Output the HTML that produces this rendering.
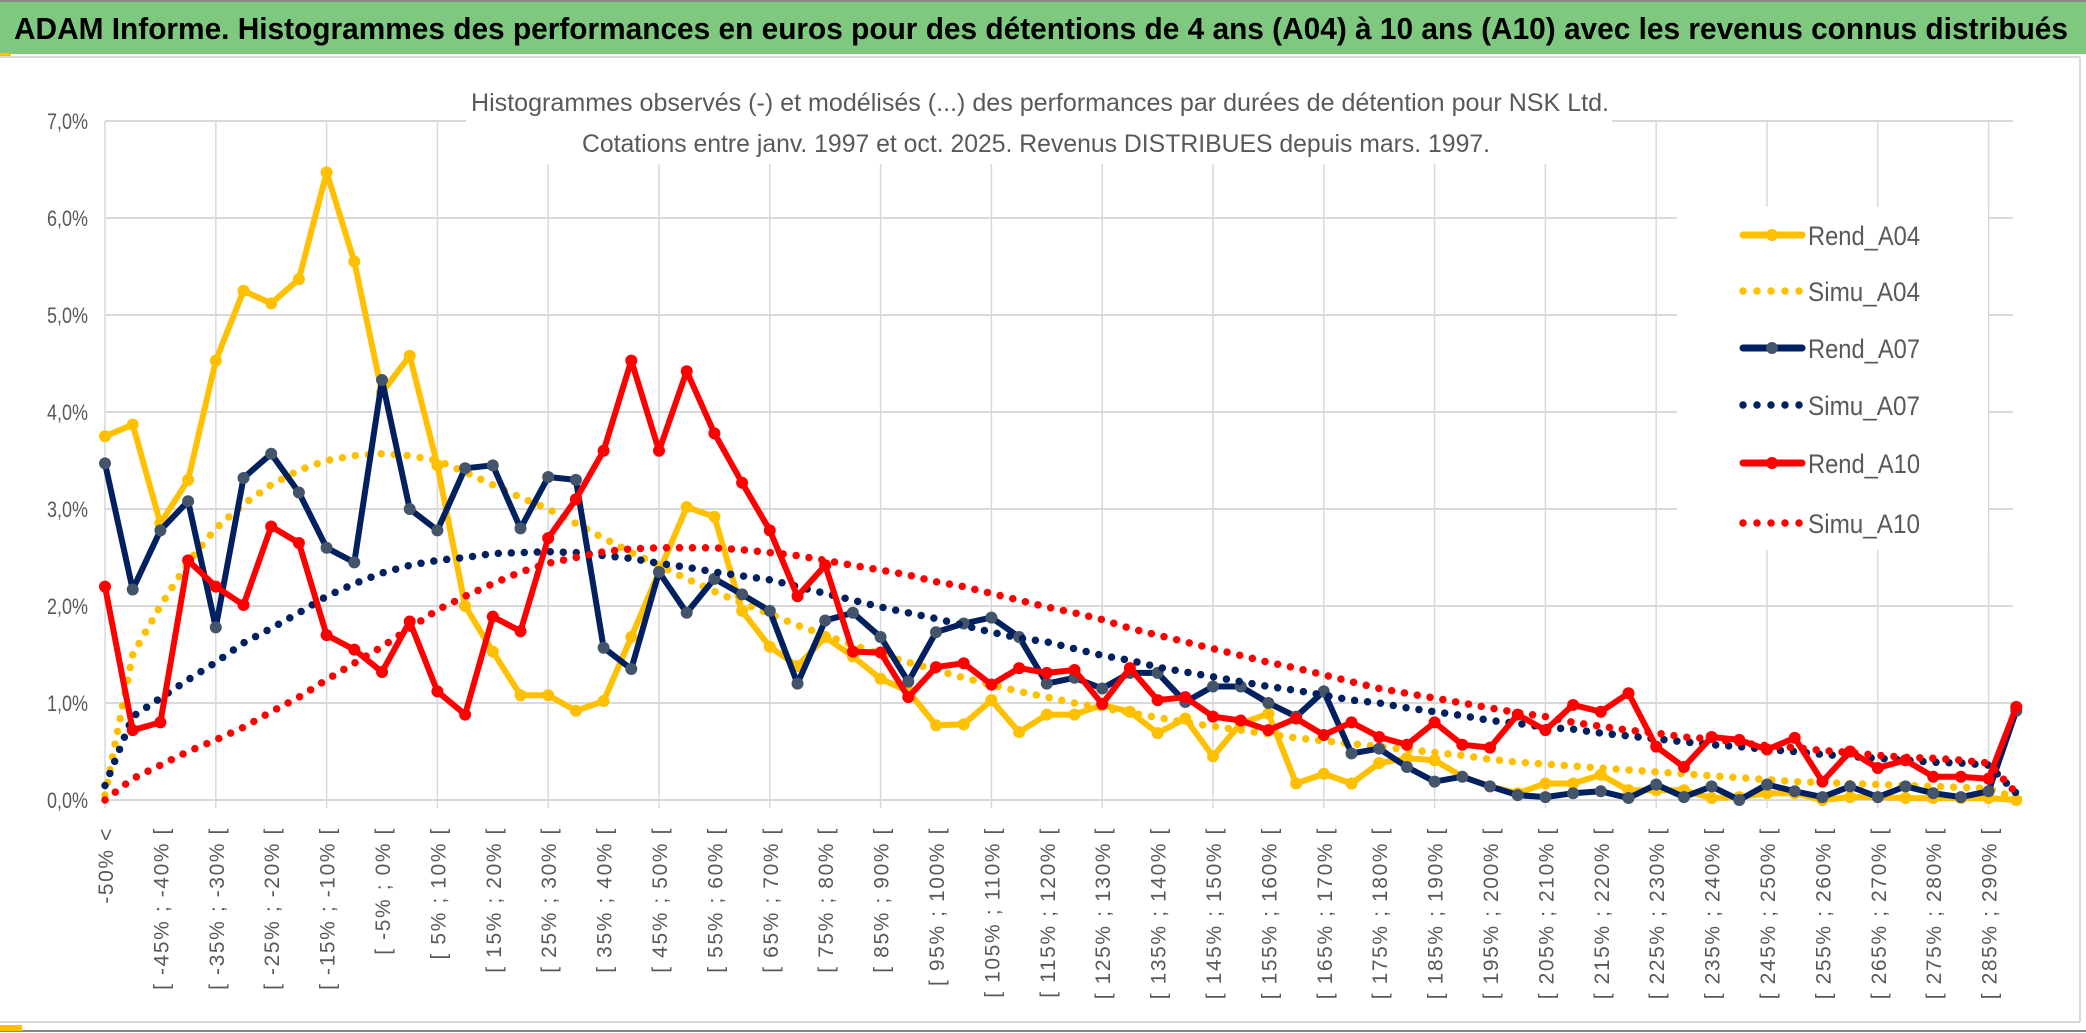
<!DOCTYPE html>
<html><head><meta charset="utf-8"><style>
html,body{margin:0;padding:0;background:#fff;}
svg{display:block;}
text{font-family:"Liberation Sans",sans-serif;}
</style></head><body>
<svg id="c" width="2086" height="1033" viewBox="0 0 2086 1033" xmlns="http://www.w3.org/2000/svg">
<rect x="0" y="0" width="2086" height="1033" fill="#fff"/>
<rect x="0" y="0" width="2086" height="54" fill="#7ec97f"/>
<line x1="0" y1="1" x2="2086" y2="1" stroke="#888" stroke-width="2"/>
<text x="14" y="39" font-size="31" font-weight="bold" fill="#000" textLength="2054" lengthAdjust="spacingAndGlyphs">ADAM Informe. Histogrammes des performances en euros pour des détentions de 4 ans (A04) à 10 ans (A10) avec les revenus connus distribués</text>
<line x1="0" y1="57" x2="2080" y2="57" stroke="#d9d9d9" stroke-width="2"/>
<line x1="2080" y1="57" x2="2080" y2="1022" stroke="#d9d9d9" stroke-width="2"/>
<rect x="0" y="53" width="11" height="3" fill="#ffc000"/>
<line x1="0" y1="1022" x2="2080" y2="1022" stroke="#d9d9d9" stroke-width="2"/>
<line x1="0" y1="1031" x2="2086" y2="1031" stroke="#888" stroke-width="2"/>
<rect x="0" y="1025" width="22" height="6" fill="#ffc000"/>
<g id="grid"></g>
<rect x="466" y="80" width="1146" height="84" fill="#fff"/>
<text x="1040" y="111" font-size="25" fill="#595959" text-anchor="middle" textLength="1138" lengthAdjust="spacingAndGlyphs">Histogrammes observés (-) et modélisés (...) des performances par durées de détention pour NSK Ltd.</text>
<text x="1036" y="152" font-size="25" fill="#595959" text-anchor="middle" textLength="908" lengthAdjust="spacingAndGlyphs">Cotations entre janv. 1997 et oct. 2025. Revenus DISTRIBUES depuis mars. 1997.</text>
<g id="yaxis"></g>
<g id="xaxis"></g>
<rect x="1677" y="207" width="311" height="343" fill="#fff"/>
<g id="series"></g>
<g id="legend"></g>
</svg>
<script>
const categories = [];
categories.push('-50% <');
for (let k = 1; k < 69; k++) { const a = -50 + 5 * (k - 1); categories.push('[ ' + a + '% ; ' + (a + 5) + '% ['); }
categories.push('>= 290%');
const yTicks = [0,1,2,3,4,5,6,7];
const rendA04 = [3.75,3.87,2.85,3.3,4.53,5.25,5.12,5.37,6.47,5.55,4.2,4.58,3.45,2.0,1.53,1.08,1.08,0.92,1.02,1.68,2.35,3.02,2.92,1.95,1.58,1.38,1.68,1.48,1.25,1.12,0.77,0.78,1.03,0.7,0.88,0.88,0.98,0.91,0.69,0.84,0.45,0.79,0.89,0.17,0.27,0.17,0.38,0.43,0.41,0.24,0.14,0.07,0.17,0.17,0.26,0.1,0.1,0.1,0.02,0.03,0.07,0.07,0.0,0.03,0.03,0.02,0.02,0.02,0.02,0.0];
const simuA04 = [0.05,1.5,2.0,2.45,2.8,3.05,3.25,3.4,3.5,3.55,3.57,3.55,3.5,3.38,3.25,3.12,3.0,2.85,2.7,2.55,2.42,2.28,2.15,2.03,1.92,1.8,1.7,1.6,1.5,1.42,1.34,1.26,1.19,1.12,1.06,1.0,0.95,0.9,0.85,0.8,0.76,0.72,0.68,0.64,0.61,0.58,0.55,0.52,0.49,0.46,0.42,0.39,0.37,0.35,0.33,0.31,0.29,0.27,0.25,0.23,0.21,0.19,0.18,0.17,0.16,0.15,0.14,0.13,0.12,0.02];
const rendA07 = [3.47,2.17,2.78,3.08,1.78,3.32,3.57,3.17,2.6,2.45,4.33,3.0,2.78,3.42,3.45,2.8,3.33,3.3,1.57,1.35,2.35,1.93,2.28,2.12,1.95,1.2,1.85,1.93,1.68,1.22,1.73,1.82,1.88,1.68,1.2,1.26,1.15,1.31,1.31,1.01,1.17,1.17,1.0,0.86,1.12,0.48,0.53,0.34,0.19,0.24,0.14,0.05,0.03,0.07,0.09,0.02,0.16,0.03,0.14,0.0,0.16,0.09,0.03,0.14,0.03,0.14,0.07,0.03,0.09,0.92];
const simuA07 = [0.15,0.86,1.05,1.24,1.42,1.62,1.77,1.93,2.1,2.23,2.34,2.42,2.47,2.5,2.54,2.55,2.56,2.55,2.52,2.49,2.44,2.4,2.35,2.31,2.27,2.2,2.13,2.06,1.99,1.93,1.87,1.8,1.73,1.67,1.63,1.56,1.49,1.44,1.37,1.32,1.27,1.22,1.17,1.13,1.08,1.03,1.0,0.95,0.91,0.87,0.82,0.79,0.75,0.73,0.69,0.66,0.63,0.6,0.57,0.55,0.52,0.5,0.47,0.45,0.43,0.41,0.39,0.38,0.36,0.07];
const rendA10 = [2.2,0.72,0.8,2.47,2.2,2.01,2.82,2.65,1.7,1.55,1.32,1.84,1.12,0.88,1.89,1.74,2.7,3.1,3.6,4.53,3.6,4.42,3.78,3.27,2.78,2.1,2.42,1.53,1.52,1.06,1.37,1.41,1.19,1.36,1.31,1.34,0.99,1.36,1.03,1.06,0.86,0.82,0.72,0.84,0.67,0.8,0.65,0.57,0.8,0.57,0.54,0.88,0.72,0.98,0.91,1.1,0.55,0.34,0.65,0.62,0.52,0.64,0.19,0.5,0.33,0.41,0.24,0.24,0.22,0.96];
const simuA10 = [0.0,0.22,0.36,0.5,0.62,0.75,0.91,1.06,1.24,1.41,1.58,1.77,1.96,2.1,2.23,2.35,2.44,2.5,2.56,2.59,2.6,2.6,2.6,2.58,2.55,2.52,2.47,2.42,2.37,2.32,2.25,2.2,2.13,2.06,1.99,1.93,1.86,1.77,1.7,1.63,1.56,1.49,1.42,1.36,1.29,1.22,1.15,1.1,1.05,1.0,0.95,0.9,0.86,0.8,0.76,0.72,0.69,0.65,0.63,0.59,0.56,0.54,0.51,0.49,0.46,0.44,0.43,0.41,0.38,0.07];
const seriesNames = ['Rend_A04','Simu_A04','Rend_A07','Simu_A07','Rend_A10','Simu_A10'];

const NS = 'http://www.w3.org/2000/svg';
const X0 = 105, DX = 27.7, Y0 = 800, YS = 97;
const xPos = i => X0 + i * DX;
const yPos = v => Y0 - v * YS;
function mk(tag, attrs, parent) { const e = document.createElementNS(NS, tag); for (const k in attrs) e.setAttribute(k, attrs[k]); parent.appendChild(e); return e; }

const grid = document.getElementById('grid');
yTicks.forEach(t => {
  const l = mk('line', {x1: X0, x2: 2013, y1: yPos(t), y2: yPos(t), stroke: '#d9d9d9', 'stroke-width': 2}, grid);
  
  
});
for (let i = 0; i < categories.length; i += 4) {
  const l = mk('line', {x1: xPos(i), x2: xPos(i), y1: yPos(7), y2: yPos(0) + 8, stroke: '#d9d9d9', 'stroke-width': 1.5}, grid);
  
  
}
const ya = document.getElementById('yaxis');
yTicks.forEach(t => {
  const tx = mk('text', {x: 88, y: yPos(t) + 8, 'font-size': 22, fill: '#595959', 'text-anchor': 'end', textLength: 41, lengthAdjust: 'spacingAndGlyphs'}, ya);
  tx.textContent = t.toFixed(1).replace('.', ',') + '%';
  
  
});
const xa = document.getElementById('xaxis');
for (let i = 0; i < categories.length - 1; i += 2) {
  const x = xPos(i) + 8, y = 827;
  const tx = mk('text', {x: x, y: y, 'font-size': 21, fill: '#595959', 'text-anchor': 'end', transform: 'rotate(-90 ' + x + ' ' + y + ')', 'letter-spacing': '1.6'}, xa);
  tx.textContent = categories[i];
  
  
}
const sg = document.getElementById('series');
function pts(arr) { return arr.map((v, i) => xPos(i).toFixed(1) + ',' + yPos(v).toFixed(1)).join(' '); }
function drawRend(arr, color, mcolor, name) {
  const g = mk('g', {}, sg);
  
  
  mk('polyline', {points: pts(arr), fill: 'none', stroke: color, 'stroke-width': 6, 'stroke-linejoin': 'round'}, g);
  arr.forEach((v, i) => {
    const c = mk('circle', {cx: xPos(i), cy: yPos(v), r: 6, fill: mcolor}, g);
    
    
  });
}
function drawSimu(arr, color, name) {
  const p = mk('polyline', {points: pts(arr), fill: 'none', stroke: color, 'stroke-width': 7.5, 'stroke-linecap': 'round', 'stroke-dasharray': '0 13'}, sg);
  
  
}
drawRend(rendA04, '#ffc000', '#ffc000', 'rend-a04-line');
drawSimu(simuA04, '#ffc000', 'simu-a04-line');
drawRend(rendA07, '#002060', '#44546a', 'rend-a07-line');
drawSimu(simuA07, '#002060', 'simu-a07-line');
drawRend(rendA10, '#ff0000', '#ff0000', 'rend-a10-line');
drawSimu(simuA10, '#ff0000', 'simu-a10-line');

const lg = document.getElementById('legend');
const lcolors = ['#ffc000','#ffc000','#002060','#002060','#ff0000','#ff0000'];
const lys = [235, 291, 348, 405, 463, 523];
seriesNames.forEach((n, k) => {
  const g = mk('g', {}, lg);
  
  
  const y = lys[k];
  if (k % 2 === 0) {
    mk('line', {x1: 1743, x2: 1802, y1: y, y2: y, stroke: lcolors[k], 'stroke-width': 7, 'stroke-linecap': 'round'}, g);
    mk('circle', {cx: 1772, cy: y, r: 6, fill: k === 2 ? '#44546a' : lcolors[k]}, g);
  } else {
    mk('line', {x1: 1743, x2: 1800, y1: y, y2: y, stroke: lcolors[k], 'stroke-width': 7.5, 'stroke-linecap': 'round', 'stroke-dasharray': '0 14'}, g);
  }
  const t = mk('text', {x: 1808, y: y + 10, 'font-size': 27, fill: '#595959', textLength: 112, lengthAdjust: 'spacingAndGlyphs'}, g);
  t.textContent = n;
});
</script>
</body></html>
